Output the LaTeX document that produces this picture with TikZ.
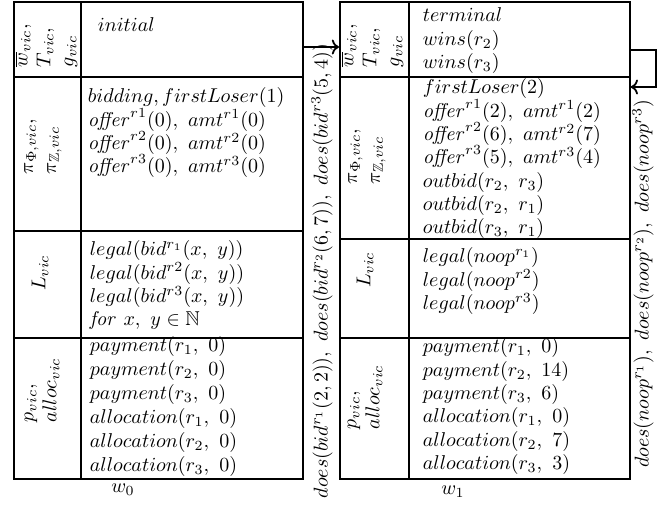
\documentclass[tikz,border=0pt]{standalone}
\usepackage{amssymb}
\usetikzlibrary{arrows.meta}
\begin{document}
\begin{tikzpicture}[x=0.5pt,y=-0.5pt,line width=0.9pt,
  cell/.style={anchor=north west,align=left,inner sep=0pt,font=\fontsize{10}{11.65}\selectfont},
  lab/.style={rotate=90,anchor=west,align=left,inner sep=0pt,font=\fontsize{10}{11.5}\selectfont},
  tbl/.style={draw,line width=0.9pt,inner sep=0pt,anchor=north west,minimum height=238.5pt},
  rule/.style={line width=0.9pt}]
\useasboundingbox (0,0) rectangle (664,505);
% tables
\node[tbl,minimum width=144.5pt] (T0) at (13,1) {};
\node[tbl,minimum width=145pt] (T1) at (339,1) {};
\draw[rule] (81,1) -- (81,478);
\draw[rule] (13,77) -- (302,77);
\draw[rule] (13,231) -- (302,231);
\draw[rule] (13,338) -- (302,338);
\draw[rule] (409,1) -- (409,478);
\draw[rule] (339,77) -- (629,77);
\draw[rule] (339,239) -- (629,239);
\draw[rule] (339,338) -- (629,338);
% left table labels
\node[lab] (a1) at (46,68) {$\overline{w}_{vic},$\\$T_{vic},$\\$g_{vic}$};
\node[lab] (a2) at (43,175) {$\pi_{\Phi,vic},$\\$\pi_{\mathbb{Z},vic}$};
\node[lab,anchor=center] (a3) at (40,273) {$L_{vic}$};
\node[lab] (a4) at (42,423) {$p_{vic},$\\$alloc_{vic}$};
% right table labels
\node[lab] (b1) at (372,68) {$\overline{w}_{vic},$\\$T_{vic},$\\$g_{vic}$};
\node[lab] (b2) at (367,185) {$\pi_{\Phi,vic},$\\$\pi_{\mathbb{Z},vic}$};
\node[lab,anchor=center] (b3) at (365,270) {$L_{vic}$};
\node[lab] (b4) at (365,430) {$p_{vic},$\\$alloc_{vic}$};
% left table cells
\node[cell,anchor=base west] (p1) at (97,31) {$initial$};
\node[cell] (p2) at (87,87) {$bidding, firstLoser(1)$\\
  $\mathit{offer}^{r1}(0),\ amt^{r1}(0)$\\
  $\mathit{offer}^{r2}(0),\ amt^{r2}(0)$\\
  $\mathit{offer}^{r3}(0),\ amt^{r3}(0)$};
\node[cell] (p3) at (89,240) {$legal(bid^{r_1}(x,\ y))$\\
  $legal(bid^{r2}(x,\ y))$\\
  $legal(bid^{r3}(x,\ y))$\\
  $\mathit{for}\ x,\ y\in\mathbb{N}$};
\node[cell,font=\fontsize{10}{12}\selectfont] (p4) at (89,336) {$payment(r_1,\ 0)$\\
  $payment(r_2,\ 0)$\\
  $payment(r_3,\ 0)$\\
  $allocation(r_1,\ 0)$\\
  $allocation(r_2,\ 0)$\\
  $allocation(r_3,\ 0)$};
% right table cells
\node[cell] (q1) at (422,7) {$terminal$\\
  $wins(r_2)$\\
  $wins(r_3)$};
\node[cell] (q2) at (422,78) {$firstLoser(2)$\\
  $\mathit{offer}^{r1}(2),\ amt^{r1}(2)$\\
  $\mathit{offer}^{r2}(6),\ amt^{r2}(7)$\\
  $\mathit{offer}^{r3}(5),\ amt^{r3}(4)$\\
  $outbid(r_2,\ r_3)$\\
  $outbid(r_2,\ r_1)$\\
  $outbid(r_3,\ r_1)$};
\node[cell] (q3) at (422,247) {$legal(noop^{r_1})$\\
  $legal(noop^{r2})$\\
  $legal(noop^{r3})$};
\node[cell] (q4) at (422,337) {$payment(r_1,\ 0)$\\
  $payment(r_2,\ 14)$\\
  $payment(r_3,\ 6)$\\
  $allocation(r_1,\ 0)$\\
  $allocation(r_2,\ 7)$\\
  $allocation(r_3,\ 3)$};
% state names
\node[inner sep=0pt] (n0) at (123,490) {$w_0$};
\node[inner sep=0pt] (n1) at (453,492) {$w_1$};
% transitions
\draw[->] ([yshift=-23pt]T0.north east) -- ([yshift=-23pt]T1.north west);
\node[lab,anchor=center] (m0) at (322,271) {$does(bid^{r_1}(2,2)),\ does(bid^{r_2}(6,7)),\ does(bid^{r3}(5,4))$};
\draw[->] ([yshift=-24.5pt]T1.north east) -- ++(25,0) |- ([yshift=-43pt]T1.north east);
\node[lab,anchor=center] (m1) at (643,284) {$does(noop^{r_1}),\ does(noop^{r_2}),\ does(noop^{r3})$};
\end{tikzpicture}
\end{document}
